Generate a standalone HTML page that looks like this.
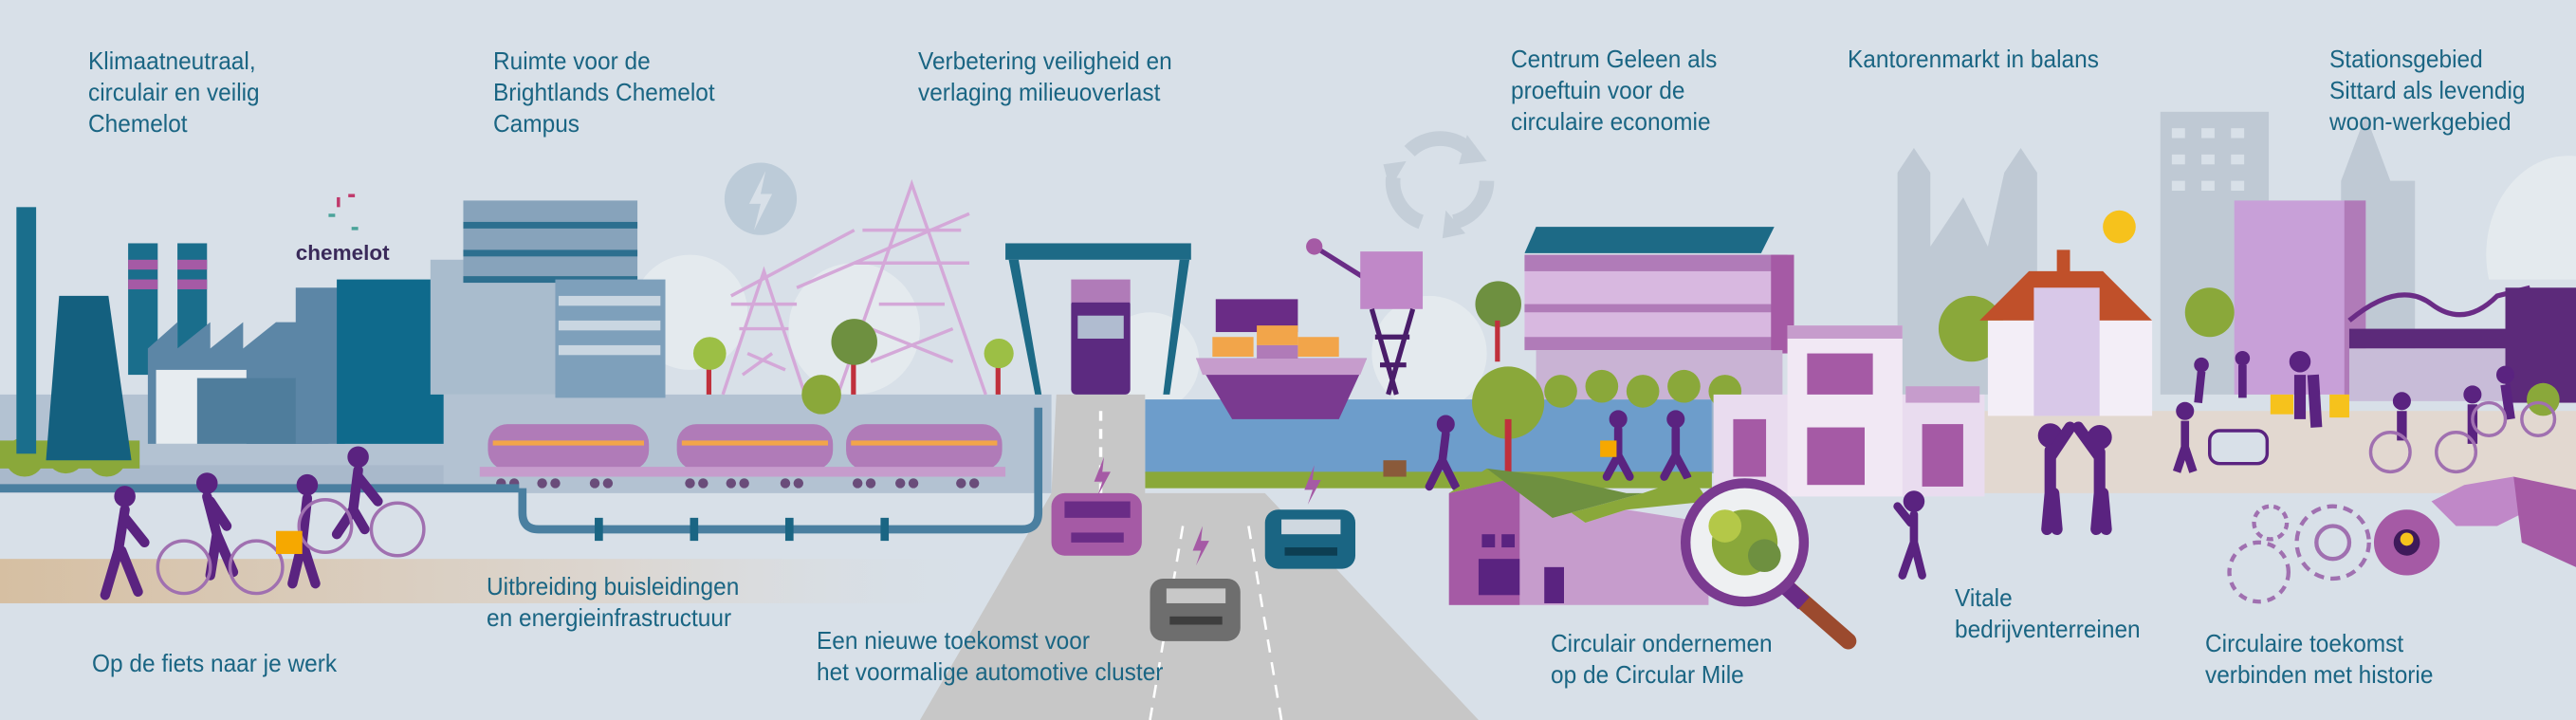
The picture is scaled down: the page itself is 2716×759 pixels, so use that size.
<!DOCTYPE html>
<html><head><meta charset="utf-8">
<style>
html,body{margin:0;padding:0}
body{width:2716px;height:759px;position:relative;overflow:hidden;background:#d8e0e8}
svg{position:absolute;left:0;top:0}
.t{position:absolute;font-family:"Liberation Sans Narrow","Liberation Sans",sans-serif;font-size:26px;line-height:33px;color:#1a6583;white-space:nowrap;transform:scaleX(0.94);transform-origin:0 0}
</style></head><body>
<svg width="2716" height="759" viewBox="0 0 1568 438" preserveAspectRatio="none">
<defs>
<linearGradient id="sand" x1="0" x2="1"><stop offset="0" stop-color="#d6bfa2"/><stop offset="0.6" stop-color="#dcd6d0"/><stop offset="1" stop-color="#d8e0e8" stop-opacity="0"/></linearGradient>
</defs>
<!-- skyline gray -->
<g fill="#bfc9d4">
<polygon points="1155,240 1155,105 1165,90 1175,105 1175,150 1195,120 1210,150 1220,105 1230,90 1240,105 1240,240"/>
<rect x="1315" y="68" width="66" height="172"/>
<polygon points="1425,240 1425,110 1440,70 1455,110 1470,110 1470,240"/>
</g>
<path d="M1515,170 A50,60 0 0 1 1568,95 L1568,170Z" fill="#e4eaee"/>
<g fill="#d8e0e8"><rect x="1322" y="78" width="8" height="6"/><rect x="1340" y="78" width="8" height="6"/><rect x="1358" y="78" width="8" height="6"/><rect x="1322" y="94" width="8" height="6"/><rect x="1340" y="94" width="8" height="6"/><rect x="1358" y="94" width="8" height="6"/><rect x="1322" y="110" width="8" height="6"/><rect x="1340" y="110" width="8" height="6"/><rect x="1358" y="110" width="8" height="6"/></g>
<!-- clouds light -->
<g fill="#e4eaee"><circle cx="300" cy="195" r="40"/><circle cx="420" cy="190" r="35"/><circle cx="520" cy="200" r="40"/><circle cx="700" cy="220" r="30"/><circle cx="870" cy="215" r="35"/><circle cx="980" cy="230" r="30"/></g>
<!-- recycle -->
<g stroke="#c4ced8" stroke-width="9" fill="none"><path d="M858,92 A26,26 0 0 1 895,92"/><path d="M905,110 A26,26 0 0 1 885,135"/><path d="M865,135 A26,26 0 0 1 848,108"/></g>
<g fill="#c4ced8"><polygon points="893,82 905,98 888,100"/><polygon points="880,128 892,142 878,145"/><polygon points="842,100 856,98 846,115"/></g>
<!-- lightning circle -->
<circle cx="463" cy="121" r="22" fill="#bccbd8"/><polygon points="466,104 456,124 463,124 459,140 470,118 463,118" fill="#d8e0e8"/>
<!-- ground bands -->
<rect x="0" y="240" width="640" height="60" fill="#b3c2d2"/>
<rect x="0" y="283" width="270" height="14" fill="#a9b9cb"/>
<rect x="0" y="340" width="620" height="27" fill="url(#sand)"/>
<!-- water -->
<rect x="697" y="243" width="345" height="45" fill="#6d9dcb"/>
<rect x="1042" y="243" width="50" height="45" fill="#9ab2c8"/>
<rect x="697" y="287" width="345" height="10" fill="#8aa83a"/>
<rect x="0" y="268" width="85" height="17" fill="#8aa83a"/>
<g fill="#8aa83a"><circle cx="15" cy="278" r="12"/><circle cx="40" cy="276" r="12"/><circle cx="65" cy="278" r="12"/></g>
<!-- right plaza -->
<rect x="1180" y="250" width="388" height="50" fill="#e2d8d0"/>
<!-- road -->
<polygon points="643,240 697,240 697,300 770,300 900,438 560,438 640,300" fill="#c7c7c7"/>
<line x1="670" y1="250" x2="670" y2="300" stroke="#fff" stroke-width="2" stroke-dasharray="6,5"/>
<line x1="720" y1="320" x2="700" y2="438" stroke="#fff" stroke-width="1.5" stroke-dasharray="8,6"/>
<line x1="760" y1="320" x2="780" y2="438" stroke="#fff" stroke-width="1.5" stroke-dasharray="8,6"/>
<!-- factory -->
<rect x="10" y="126" width="12" height="150" fill="#1a6e8c"/>
<polygon points="28,280 36,180 66,180 80,280" fill="#14607f"/>
<rect x="78" y="148" width="18" height="80" fill="#1a6e8c"/><rect x="108" y="148" width="18" height="80" fill="#1a6e8c"/>
<g fill="#a55aa5"><rect x="78" y="158" width="18" height="6"/><rect x="78" y="170" width="18" height="6"/><rect x="108" y="158" width="18" height="6"/><rect x="108" y="170" width="18" height="6"/></g>
<polygon points="90,270 90,212 108,196 108,212 128,196 128,212 148,196 148,212 168,196 200,196 200,270" fill="#5c86a6"/>
<rect x="95" y="225" width="55" height="45" fill="#e7ecf0"/>
<rect x="120" y="230" width="70" height="40" fill="#4f7d9c"/>
<rect x="180" y="175" width="30" height="95" fill="#5c86a6"/>
<rect x="205" y="170" width="65" height="100" fill="#0f6a8c"/>
<text x="180" y="158" font-family="Liberation Sans" font-weight="bold" font-size="13" fill="#3a2a5a">chemelot</text>
<g fill="#c0396b"><rect x="205" y="120" width="2" height="6"/><rect x="212" y="118" width="4" height="2"/></g><g fill="#4aa39a"><rect x="200" y="130" width="4" height="2"/><rect x="214" y="138" width="4" height="2"/></g>
<!-- brightlands -->
<rect x="262" y="158" width="78" height="82" fill="#a9bccd"/>
<rect x="282" y="122" width="106" height="50" fill="#87a3bb"/>
<g fill="#2d6f8f"><rect x="282" y="135" width="106" height="4"/><rect x="282" y="152" width="106" height="4"/><rect x="282" y="168" width="106" height="4"/></g>
<rect x="338" y="170" width="67" height="72" fill="#7ea0bb"/>
<g fill="#c9d6e1"><rect x="340" y="180" width="62" height="6"/><rect x="340" y="195" width="62" height="6"/><rect x="340" y="210" width="62" height="6"/></g>
<!-- pylons -->
<g stroke="#d4a8d8" stroke-width="2" fill="none">
<path d="M440,240 L465,165 L490,240 M450,200 L480,200 M445,185 L485,185 M455,215 L478,225 M470,215 L452,228"/>
<path d="M510,240 L555,112 L600,240 M525,140 L585,140 M520,160 L590,160 M535,185 L575,185 M530,200 L580,220 M580,200 L530,220"/>
<path d="M445,180 L520,140 M485,175 L590,130"/>
</g>
<!-- trees -->
<g><rect x="430" y="220" width="3" height="20" fill="#c0303c"/><circle cx="432" cy="215" r="10" fill="#9cbf45"/>
<rect x="518" y="215" width="3" height="25" fill="#c0303c"/><circle cx="520" cy="208" r="14" fill="#6e9040"/>
<rect x="606" y="220" width="3" height="20" fill="#c0303c"/><circle cx="608" cy="215" r="9" fill="#9cbf45"/>
<circle cx="500" cy="240" r="12" fill="#8aa83a"/></g>
<!-- tankers -->
<g>
<rect x="297" y="258" width="98" height="28" rx="12" fill="#b07bb8"/><rect x="412" y="258" width="95" height="28" rx="12" fill="#b07bb8"/><rect x="515" y="258" width="95" height="28" rx="12" fill="#b07bb8"/>
<g fill="#f2a54a"><rect x="300" y="268" width="92" height="3"/><rect x="415" y="268" width="89" height="3"/><rect x="518" y="268" width="89" height="3"/></g>
<rect x="292" y="284" width="320" height="6" fill="#c69ccc"/>
<g fill="#6a4c7a"><circle cx="305" cy="294" r="3"/><circle cx="313" cy="294" r="3"/><circle cx="330" cy="294" r="3"/><circle cx="338" cy="294" r="3"/><circle cx="362" cy="294" r="3"/><circle cx="370" cy="294" r="3"/><circle cx="420" cy="294" r="3"/><circle cx="428" cy="294" r="3"/><circle cx="445" cy="294" r="3"/><circle cx="453" cy="294" r="3"/><circle cx="478" cy="294" r="3"/><circle cx="486" cy="294" r="3"/><circle cx="522" cy="294" r="3"/><circle cx="530" cy="294" r="3"/><circle cx="548" cy="294" r="3"/><circle cx="556" cy="294" r="3"/><circle cx="585" cy="294" r="3"/><circle cx="593" cy="294" r="3"/></g>
</g>
<!-- pipeline -->
<path d="M0,297 L316,297 M318,297 L318,312 Q318,322 328,322 L622,322 Q632,322 632,312 L632,248" stroke="#4a7fa0" stroke-width="5" fill="none"/>
<g fill="#1a6583"><rect x="362" y="315" width="5" height="14"/><rect x="420" y="315" width="5" height="14"/><rect x="478" y="315" width="5" height="14"/><rect x="536" y="315" width="5" height="14"/></g>
<!-- gantry -->
<g fill="#1d6a86"><rect x="612" y="148" width="113" height="10"/><polygon points="614,158 620,158 634,240 630,240"/><polygon points="718,158 724,158 712,240 708,240"/></g>
<rect x="652" y="182" width="36" height="58" rx="3" fill="#5c2a80"/><rect x="656" y="192" width="28" height="14" fill="#b0bcd0"/><rect x="652" y="170" width="36" height="14" fill="#b07bb8"/>
<!-- ship -->
<rect x="740" y="182" width="50" height="20" fill="#6a2c86"/>
<g fill="#f2a54a"><rect x="738" y="205" width="25" height="12"/><rect x="765" y="198" width="25" height="12"/><rect x="790" y="205" width="25" height="12"/></g>
<rect x="765" y="210" width="25" height="10" fill="#b07bb8"/>
<polygon points="728,218 832,218 815,255 750,255" fill="#7a3a90"/>
<polygon points="728,218 832,218 828,228 732,228" fill="#c69ccc"/>
<!-- port crane -->
<g><line x1="800" y1="150" x2="840" y2="175" stroke="#6a2c86" stroke-width="3"/><circle cx="800" cy="150" r="5" fill="#a55aa5"/><rect x="828" y="153" width="38" height="35" fill="#c088c8"/><path d="M835,188 L850,240 M860,188 L845,240 M837,205 L858,205 M840,222 L856,222" stroke="#4a1d6a" stroke-width="3"/></g>
<!-- solar building -->
<g fill="#1d6a86"><polygon points="935,138 1080,138 1072,154 928,154"/></g>
<rect x="928" y="155" width="160" height="55" fill="#d8b8e0"/>
<rect x="928" y="155" width="160" height="10" fill="#b07bb8"/><rect x="928" y="185" width="160" height="5" fill="#b07bb8"/><rect x="928" y="205" width="160" height="8" fill="#b07bb8"/>
<rect x="1078" y="155" width="14" height="60" fill="#a55aa5"/>
<rect x="935" y="213" width="150" height="30" fill="#c9b3d4"/>
<g fill="#8aa83a"><circle cx="950" cy="238" r="10"/><circle cx="975" cy="235" r="10"/><circle cx="1000" cy="238" r="10"/><circle cx="1025" cy="235" r="10"/><circle cx="1050" cy="238" r="10"/></g>
<circle cx="912" cy="185" r="14" fill="#6e9040"/><rect x="910" y="195" width="3" height="25" fill="#c0303c"/>
<circle cx="918" cy="245" r="22" fill="#8aa83a"/><rect x="916" y="255" width="4" height="35" fill="#c0303c"/>
<!-- pink shops -->
<rect x="1043" y="240" width="165" height="62" fill="#e9dcef"/>
<rect x="1088" y="198" width="70" height="104" fill="#f1e8f4"/>
<rect x="1088" y="198" width="70" height="8" fill="#c69ccc"/>
<g fill="#a55aa5"><rect x="1055" y="255" width="20" height="35"/><rect x="1100" y="215" width="40" height="25"/><rect x="1100" y="260" width="35" height="35"/><rect x="1170" y="258" width="25" height="38"/></g>
<rect x="1160" y="235" width="45" height="10" fill="#c69ccc"/>
<!-- town hall -->
<circle cx="1200" cy="200" r="20" fill="#8aa83a"/>
<polygon points="1205,195 1235,165 1280,165 1310,195" fill="#c0502a"/>
<rect x="1210" y="195" width="100" height="58" fill="#f3eef7"/>
<rect x="1238" y="175" width="40" height="78" fill="#d8c8e8"/>
<rect x="1252" y="152" width="8" height="15" fill="#c0502a"/>
<circle cx="1290" cy="138" r="10" fill="#f6c21c"/>
<!-- purple tall -->
<rect x="1360" y="122" width="80" height="118" fill="#c8a0d8"/>
<rect x="1427" y="122" width="13" height="118" fill="#b07bb8"/>
<circle cx="1345" cy="190" r="15" fill="#8aa83a"/>
<!-- station -->
<path d="M1430,195 Q1460,170 1480,185 Q1500,200 1520,180 L1540,175" stroke="#6a2c86" stroke-width="3" fill="none"/>
<rect x="1430" y="200" width="100" height="12" fill="#5c2a7a"/>
<rect x="1430" y="212" width="95" height="32" fill="#c8bcd8"/>
<rect x="1525" y="175" width="43" height="70" fill="#5c2a7a"/>
<circle cx="1548" cy="243" r="10" fill="#8aa83a"/>
<!-- people -->
<g fill="#5a2380" stroke="#5a2380">
<circle cx="76" cy="302" r="6"/><path d="M76,310 L72,335 L64,362 M74,335 L84,360 M76,315 L88,330" stroke-width="6" fill="none" stroke-linecap="round"/>
<circle cx="126" cy="294" r="6"/><path d="M126,302 L132,325 L128,350 M132,325 L142,348 M128,305 L138,320" stroke-width="6" fill="none" stroke-linecap="round"/>
<circle cx="187" cy="295" r="6"/><path d="M187,303 L184,330 L178,355 M184,330 L192,355" stroke-width="6" fill="none" stroke-linecap="round"/>
<circle cx="218" cy="278" r="6"/><path d="M218,286 L215,310 L205,325 M215,310 L222,322 M218,290 L230,305" stroke-width="6" fill="none" stroke-linecap="round"/>
<circle cx="880" cy="258" r="5"/><path d="M880,264 L878,280 L870,296 M878,280 L886,296" stroke-width="5" fill="none" stroke-linecap="round"/>
<circle cx="985" cy="255" r="5"/><path d="M985,261 L985,277 L978,290 M985,277 L992,290" stroke-width="5" fill="none" stroke-linecap="round"/>
<circle cx="1020" cy="255" r="5"/><path d="M1020,261 L1020,277 L1013,290 M1020,277 L1027,290" stroke-width="5" fill="none" stroke-linecap="round"/>
<circle cx="1165" cy="305" r="6"/><path d="M1165,313 L1165,330 L1158,350 M1165,330 L1170,350 M1163,318 L1155,308" stroke-width="5" fill="none" stroke-linecap="round"/>
<circle cx="1248" cy="265" r="7"/><path d="M1248,274 L1248,300 L1246,322 M1250,300 L1252,322 M1248,278 L1260,260" stroke-width="7" fill="none" stroke-linecap="round"/>
<circle cx="1278" cy="266" r="7"/><path d="M1278,275 L1278,300 L1276,322 M1280,300 L1282,322 M1278,278 L1265,260" stroke-width="7" fill="none" stroke-linecap="round"/>
<circle cx="1330" cy="250" r="5"/><path d="M1330,256 L1330,272 L1325,287 M1330,272 L1335,287" stroke-width="5" fill="none"/>
<circle cx="1400" cy="220" r="6"/><path d="M1400,228 L1400,255 M1408,228 L1410,260" stroke-width="7" fill="none"/>
<circle cx="1462" cy="244" r="5"/><circle cx="1505" cy="240" r="5"/><circle cx="1525" cy="228" r="5"/>
<path d="M1462,250 L1462,268 M1505,246 L1505,270 M1525,234 L1528,255" stroke-width="6" fill="none"/>
<circle cx="1340" cy="222" r="4"/><circle cx="1365" cy="218" r="4"/><path d="M1340,226 L1338,245 M1365,222 L1365,242" stroke-width="5" fill="none"/>
</g>
<g stroke="#a070b0" stroke-width="2" fill="none"><circle cx="112" cy="345" r="16"/><circle cx="156" cy="345" r="16"/><circle cx="242" cy="322" r="16"/><circle cx="198" cy="320" r="16"/><circle cx="1455" cy="275" r="12"/><circle cx="1495" cy="275" r="12"/><circle cx="1545" cy="255" r="10"/><circle cx="1515" cy="255" r="10"/></g>
<rect x="168" y="323" width="16" height="14" fill="#f6a800"/><rect x="974" y="268" width="10" height="10" fill="#f6a800"/><rect x="1382" y="240" width="14" height="12" fill="#f6c21c"/><rect x="1418" y="240" width="12" height="14" fill="#f6c21c"/>
<!-- dog & cart -->
<rect x="842" y="280" width="14" height="10" fill="#8a5a3a"/>
<rect x="1345" y="262" width="35" height="20" rx="6" fill="#d8e0e8" stroke="#5a2380" stroke-width="2"/>
<!-- cars -->
<g><rect x="640" y="300" width="55" height="38" rx="8" fill="#a55aa5"/><rect x="648" y="305" width="40" height="10" fill="#6a2c86"/><rect x="652" y="324" width="32" height="6" fill="#6a2c86"/></g>
<g><rect x="770" y="310" width="55" height="36" rx="8" fill="#1a6583"/><rect x="780" y="316" width="36" height="9" fill="#cfd8e0"/><rect x="782" y="333" width="32" height="5" fill="#0d3e52"/></g>
<g><rect x="700" y="352" width="55" height="38" rx="8" fill="#6e6e6e"/><rect x="710" y="358" width="36" height="9" fill="#c8c8c8"/><rect x="712" y="375" width="32" height="5" fill="#3e3e3e"/></g>
<g fill="#a55aa5"><polygon points="672,278 666,293 671,293 668,302 676,287 671,287"/><polygon points="800,283 794,298 799,298 796,307 804,292 799,292"/><polygon points="732,320 726,335 731,335 728,344 736,329 731,329"/></g>
<!-- green roof factory -->
<polygon points="882,300 925,290 965,318 990,310 1040,318 1040,368 882,368" fill="#c69ccc"/>
<polygon points="882,300 925,290 925,368 882,368" fill="#a55aa5"/>
<polygon points="882,300 905,285 945,315 1000,300 1030,290 1040,305 990,310 965,318 925,290" fill="#8aa83a"/>
<polygon points="905,285 945,290 990,300 1000,300 945,315" fill="#6e9040"/>
<g fill="#5a2380"><rect x="902" y="325" width="8" height="8"/><rect x="914" y="325" width="8" height="8"/><rect x="900" y="340" width="25" height="22"/><rect x="940" y="345" width="12" height="22"/></g>
<!-- magnifier -->
<line x1="1085" y1="355" x2="1125" y2="390" stroke="#9b4a2e" stroke-width="10" stroke-linecap="round"/>
<line x1="1085" y1="355" x2="1098" y2="367" stroke="#6a2c86" stroke-width="10"/>
<circle cx="1062" cy="330" r="36" fill="#eef0f2" stroke="#7a3a90" stroke-width="6"/>
<g fill="#8aa83a"><circle cx="1062" cy="330" r="20"/><circle cx="1050" cy="320" r="10" fill="#b4c848"/><circle cx="1074" cy="338" r="10" fill="#6e9040"/></g>
<!-- gears -->
<g stroke="#a070b0" stroke-width="2.5" fill="none"><circle cx="1382" cy="318" r="10" stroke-dasharray="4,3"/><circle cx="1420" cy="330" r="22" stroke-dasharray="6,4"/><circle cx="1420" cy="330" r="10"/><circle cx="1375" cy="348" r="18" stroke-dasharray="5,4"/></g>
<circle cx="1465" cy="330" r="20" fill="#a55aa5"/><circle cx="1465" cy="330" r="8" fill="#3e1a5a"/><circle cx="1465" cy="328" r="4" fill="#f6c21c"/>
<!-- hand -->
<polygon points="1480,305 1500,295 1530,290 1540,310 1520,320 1495,320" fill="#c088c8"/>
<polygon points="1530,290 1568,298 1568,345 1535,330" fill="#a55aa5"/>
</svg>
<div class="t" style="left:93px;top:48px">Klimaatneutraal,<br>circulair en veilig<br>Chemelot</div>
<div class="t" style="left:520px;top:48px">Ruimte voor de<br>Brightlands Chemelot<br>Campus</div>
<div class="t" style="left:968px;top:48px">Verbetering veiligheid en<br>verlaging milieuoverlast</div>
<div class="t" style="left:1593px;top:46px">Centrum Geleen als<br>proeftuin voor de<br>circulaire economie</div>
<div class="t" style="left:1948px;top:46px">Kantorenmarkt in balans</div>
<div class="t" style="left:2456px;top:46px">Stationsgebied<br>Sittard als levendig<br>woon-werkgebied</div>
<div class="t" style="left:97px;top:683px">Op de fiets naar je werk</div>
<div class="t" style="left:513px;top:602px">Uitbreiding buisleidingen<br>en energieinfrastructuur</div>
<div class="t" style="left:861px;top:659px">Een nieuwe toekomst voor<br>het voormalige automotive cluster</div>
<div class="t" style="left:1635px;top:662px">Circulair ondernemen<br>op de Circular Mile</div>
<div class="t" style="left:2061px;top:614px">Vitale<br>bedrijventerreinen</div>
<div class="t" style="left:2325px;top:662px">Circulaire toekomst<br>verbinden met historie</div>
</body></html>
